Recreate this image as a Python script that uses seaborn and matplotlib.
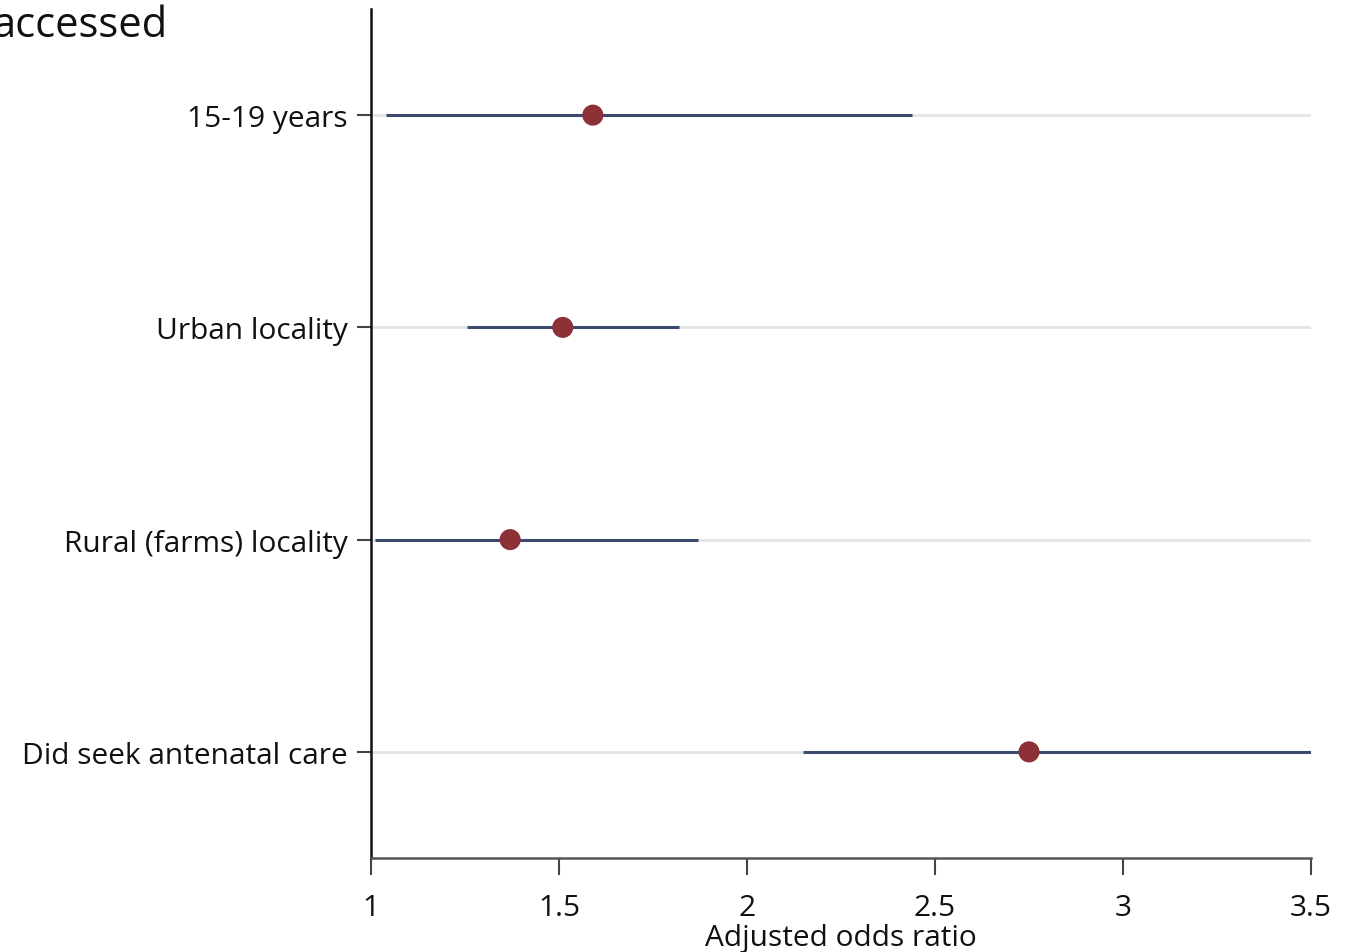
import matplotlib
matplotlib.use("Agg")
import matplotlib.pyplot as plt
import seaborn as sns
import pandas as pd

# data
labels = ["15-19 years", "Urban locality", "Rural (farms) locality", "Did seek antenatal care"]
odds_ratio = [1.59, 1.51, 1.37, 2.75]
ci_low = [1.04, 1.255, 1.01, 2.15]
ci_high = [2.44, 1.82, 1.87, 3.5]
x_ticks = [1, 1.5, 2, 2.5, 3, 3.5]
x_ticklabels = ["1", "1.5", "2", "2.5", "3", "3.5"]

sns.set_theme(style="white")
plt.rcParams['font.family'] = ['Open Sans', 'DejaVu Sans']
plt.rcParams['text.color'] = '#111111'
plt.rcParams['axes.labelcolor'] = '#111111'
plt.rcParams['xtick.color'] = '#111111'
plt.rcParams['ytick.color'] = '#111111'

df = pd.DataFrame({"label": labels, "or": odds_ratio, "lo": ci_low, "hi": ci_high})

fig = plt.figure(figsize=(13.52, 9.53), dpi=100)
ax = fig.add_axes([371/1352, 1-859/953, (1311-371)/1352, (859-10)/953])

ax.grid(axis='y', color='#e4e4e4', linewidth=2.0, zorder=0)
ax.hlines(y=df["label"], xmin=df["lo"], xmax=df["hi"], color='#3b4a6e', linewidth=2.2, zorder=2)
sns.scatterplot(data=df, x="or", y="label", ax=ax, color='#8d3139', s=230, edgecolor='none', zorder=3, legend=False)

ax.set_xlim(1, 3.5)
ax.set_ylim(3.5, -0.5)
ax.set_xticks(x_ticks)
ax.set_xticklabels(x_ticklabels)
ax.set_xlabel("Adjusted odds ratio", fontsize=21.5, labelpad=1)
ax.set_ylabel("")

for s in ["top", "right"]:
    ax.spines[s].set_visible(False)
ax.spines["left"].set_color('#111111')
ax.spines["left"].set_linewidth(1.8)
ax.spines["bottom"].set_color('#555555')
ax.spines["bottom"].set_linewidth(1.8)

ax.tick_params(axis='y', length=10, width=1.5, color='#444444', labelsize=21.5, pad=7, left=True)
ax.tick_params(axis='x', length=12, width=1.5, color='#444444', labelsize=21.5, pad=13, bottom=True)

fig.text(167/1352, 1-37/953, "accessed", ha='right', va='baseline', fontsize=30)

fig.savefig("out.png", dpi=100)
